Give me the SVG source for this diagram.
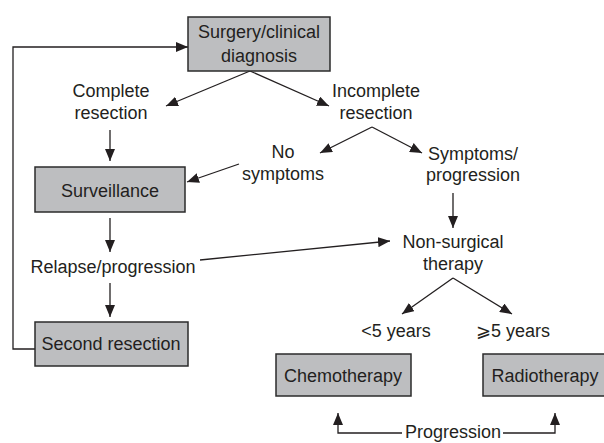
<svg xmlns="http://www.w3.org/2000/svg" width="604" height="443" viewBox="0 0 604 443">
  <style>
    .box { fill: #bdbec0; stroke: #2b2b2b; stroke-width: 1.5; }
    .t { font-family: "Liberation Sans", Arial, sans-serif; font-size: 18px; fill: #231f20; text-anchor: middle; }
    .c { fill: none; stroke: #231f20; stroke-width: 1.3; }
    .a { marker-end: url(#arrow); }
  </style>
  <defs>
    <marker id="arrow" markerUnits="userSpaceOnUse" markerWidth="12" markerHeight="10" viewBox="0 0 12 10" refX="12" refY="5" orient="auto">
      <path d="M0,0 L12,5 L0,10 Z" fill="#231f20"/>
    </marker>
  </defs>

  <rect x="0" y="0" width="604" height="443" fill="#ffffff"/>

  <!-- connectors -->
  <g id="connectors">
    <polyline class="c a" points="35,349 13,349 13,47 188,47"/>
    <line class="c a" x1="250" y1="71" x2="166" y2="106"/>
    <line class="c a" x1="250" y1="71" x2="329" y2="106"/>
    <line class="c a" x1="110" y1="130" x2="110" y2="161"/>
    <line class="c a" x1="372" y1="127" x2="320" y2="153"/>
    <line class="c a" x1="372" y1="127" x2="422" y2="153"/>
    <line class="c a" x1="239" y1="164" x2="187" y2="182"/>
    <line class="c a" x1="453" y1="193" x2="453" y2="228"/>
    <line class="c a" x1="110" y1="218" x2="110" y2="252"/>
    <line class="c a" x1="200" y1="260" x2="390" y2="241"/>
    <line class="c a" x1="110" y1="283" x2="110" y2="317"/>
    <line class="c a" x1="453" y1="278" x2="402" y2="314"/>
    <line class="c a" x1="453" y1="278" x2="512" y2="314"/>
    <polyline class="c a" points="402,433 338,433 338,413"/>
    <polyline class="c a" points="503,433 555,433 555,413"/>
  </g>

  <g id="surgery">
    <rect class="box" x="188" y="17" width="142" height="54"/>
    <text class="t" x="259" y="38">Surgery/clinical</text>
    <text class="t" x="259" y="62">diagnosis</text>
  </g>

  <g id="complete-resection">
    <text class="t" x="111" y="97">Complete</text>
    <text class="t" x="111" y="119">resection</text>
  </g>

  <g id="incomplete-resection">
    <text class="t" x="376" y="97">Incomplete</text>
    <text class="t" x="376" y="119">resection</text>
  </g>

  <g id="no-symptoms">
    <text class="t" x="283" y="158">No</text>
    <text class="t" x="283" y="180">symptoms</text>
  </g>

  <g id="symptoms-progression">
    <text class="t" x="473" y="160">Symptoms/</text>
    <text class="t" x="473" y="181">progression</text>
  </g>

  <g id="surveillance">
    <rect class="box" x="35" y="167" width="150" height="45"/>
    <text class="t" x="110" y="197">Surveillance</text>
  </g>

  <g id="relapse">
    <text class="t" x="113" y="273">Relapse/progression</text>
  </g>

  <g id="non-surgical">
    <text class="t" x="453" y="248">Non-surgical</text>
    <text class="t" x="453" y="270">therapy</text>
  </g>

  <g id="second-resection">
    <rect class="box" x="35" y="322" width="153" height="44"/>
    <text class="t" x="111" y="350">Second resection</text>
  </g>

  <g id="under-5">
    <text class="t" x="396" y="337">&lt;5 years</text>
  </g>

  <g id="over-5">
    <text class="t" x="513" y="337">⩾5 years</text>
  </g>

  <g id="chemotherapy">
    <rect class="box" x="276" y="354" width="135" height="42"/>
    <text class="t" x="343" y="382">Chemotherapy</text>
  </g>

  <g id="radiotherapy">
    <rect class="box" x="483" y="354" width="130" height="42"/>
    <text class="t" x="545" y="382">Radiotherapy</text>
  </g>

  <g id="progression">
    <text class="t" x="453" y="438">Progression</text>
  </g>
</svg>
